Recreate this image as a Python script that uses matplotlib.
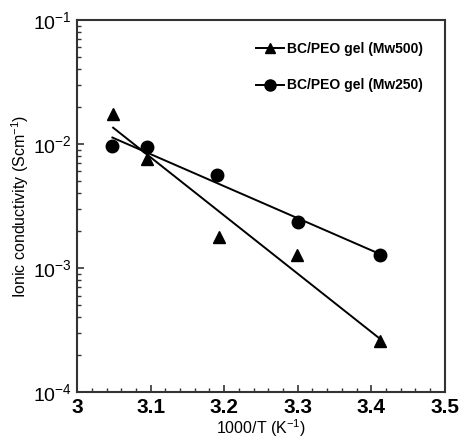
import numpy as np
import matplotlib
matplotlib.use("Agg")
import matplotlib.pyplot as plt
from matplotlib.lines import Line2D
from matplotlib.ticker import MultipleLocator, LogLocator

plt.rcParams['font.family'] = ['Liberation Sans', 'DejaVu Sans']
plt.rcParams['mathtext.fontset'] = 'custom'
plt.rcParams['mathtext.rm'] = 'Liberation Sans'
plt.rcParams['mathtext.default'] = 'regular'

# 1000/T and conductivity for the two gels
x_mw500 = [3.049, 3.095, 3.193, 3.299, 3.412]
s_mw500 = [0.0174, 0.0076, 0.00178, 0.00127, 0.00026]
x_mw250 = [3.048, 3.095, 3.190, 3.300, 3.412]
s_mw250 = [0.0096, 0.0095, 0.0056, 0.00234, 0.00127]

label_500 = 'BC/PEO gel (Mw500)'
label_250 = 'BC/PEO gel (Mw250)'

fig = plt.figure(figsize=(4.59, 4.43), dpi=100)
ax = fig.add_axes([0.168, 0.115, 0.801, 0.840])

for xs, ss, mk, ms in [(x_mw500, s_mw500, '^', 8), (x_mw250, s_mw250, 'o', 9)]:
    xs = np.array(xs)
    ss = np.array(ss)
    ax.plot(xs, ss, linestyle='none', marker=mk, color='black', markersize=ms)
    # Arrhenius fit on log scale
    k, b = np.polyfit(xs, np.log10(ss), 1)
    xf = np.array([xs.min(), xs.max()])
    ax.plot(xf, 10 ** (k * xf + b), color='black', lw=1.4)

ax.set_yscale('log')
ax.set_xlim(3.0, 3.5)
ax.set_ylim(1e-4, 1e-1)
ax.xaxis.set_minor_locator(MultipleLocator(0.02))
ax.yaxis.set_major_locator(LogLocator(base=10, numticks=10))
ax.yaxis.set_minor_locator(LogLocator(base=10, subs=np.arange(2, 10), numticks=10))
ax.set_xticks([3.0, 3.1, 3.2, 3.3, 3.4, 3.5])
ax.set_xticklabels(['3', '3.1', '3.2', '3.3', '3.4', '3.5'])

ax.tick_params(which='both', direction='in', top=False, right=False, color='#333333')
ax.tick_params(which='major', length=5, width=1.2, pad=4)
ax.tick_params(axis='x', which='major', labelsize=15)
ax.tick_params(axis='y', which='major', labelsize=14)
ax.tick_params(which='minor', length=3, width=1.0)
for lbl in ax.get_xticklabels():
    lbl.set_fontweight('bold')
for sp in ax.spines.values():
    sp.set_linewidth(1.5)
    sp.set_color('#333333')

ax.set_xlabel('1000/T (K$^{-1}$)', fontsize=11.5, va='center')
ax.xaxis.set_label_coords(0.5, -0.098)
ax.set_ylabel('Ionic conductivity (Scm$^{-1}$)', fontsize=11.5, va='center')
ax.yaxis.set_label_coords(-0.155, 0.5)

handles = [
    Line2D([], [], color='black', lw=1.4, marker='^', markersize=7),
    Line2D([], [], color='black', lw=1.4, marker='o', markersize=8),
]
ax.legend(handles, [label_500, label_250], loc='upper right', frameon=False,
          prop={'weight': 'bold', 'size': 10}, handlelength=2.0,
          handletextpad=0.2, labelspacing=1.6, borderaxespad=1.2)

fig.savefig('out.png', dpi=100)
